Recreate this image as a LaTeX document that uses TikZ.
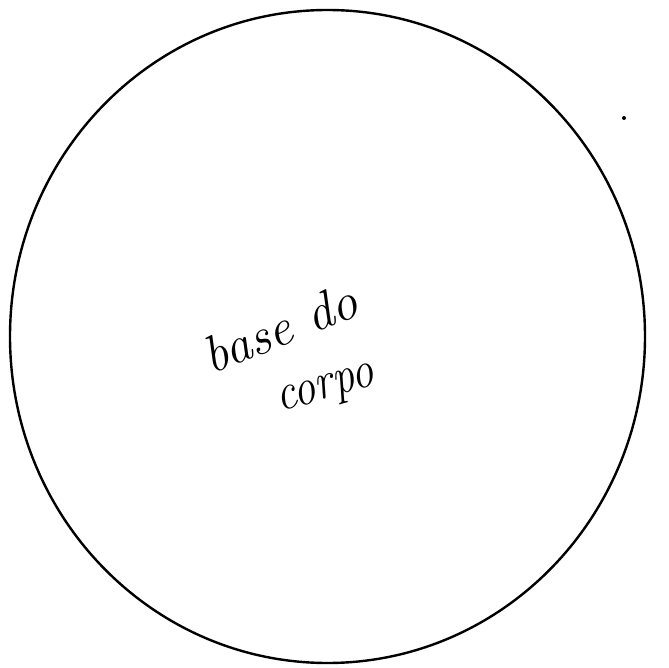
\documentclass[tikz,border=0pt]{standalone}
\usepackage{fontspec}
\usetikzlibrary{shapes.geometric}
\begin{document}
\begin{tikzpicture}[x=1pt,y=-1pt,
  outline/.style={draw=black,line width=2.4pt},
  hand/.style={font=\fontsize{52}{56}\selectfont\itshape,inner sep=0pt}]
\useasboundingbox (0,0) rectangle (669,668);
\node[outline,ellipse,minimum width=635pt,minimum height=653pt,inner sep=0pt] (disc) at (327.5,336.5) {};
\fill (624,118) circle (2pt);
\node[hand,rotate=22] (l1) at (280,328) {base do};
\node[hand,rotate=16,xscale=0.85] (l2) at (327,392) {corpo};
\end{tikzpicture}
\end{document}
